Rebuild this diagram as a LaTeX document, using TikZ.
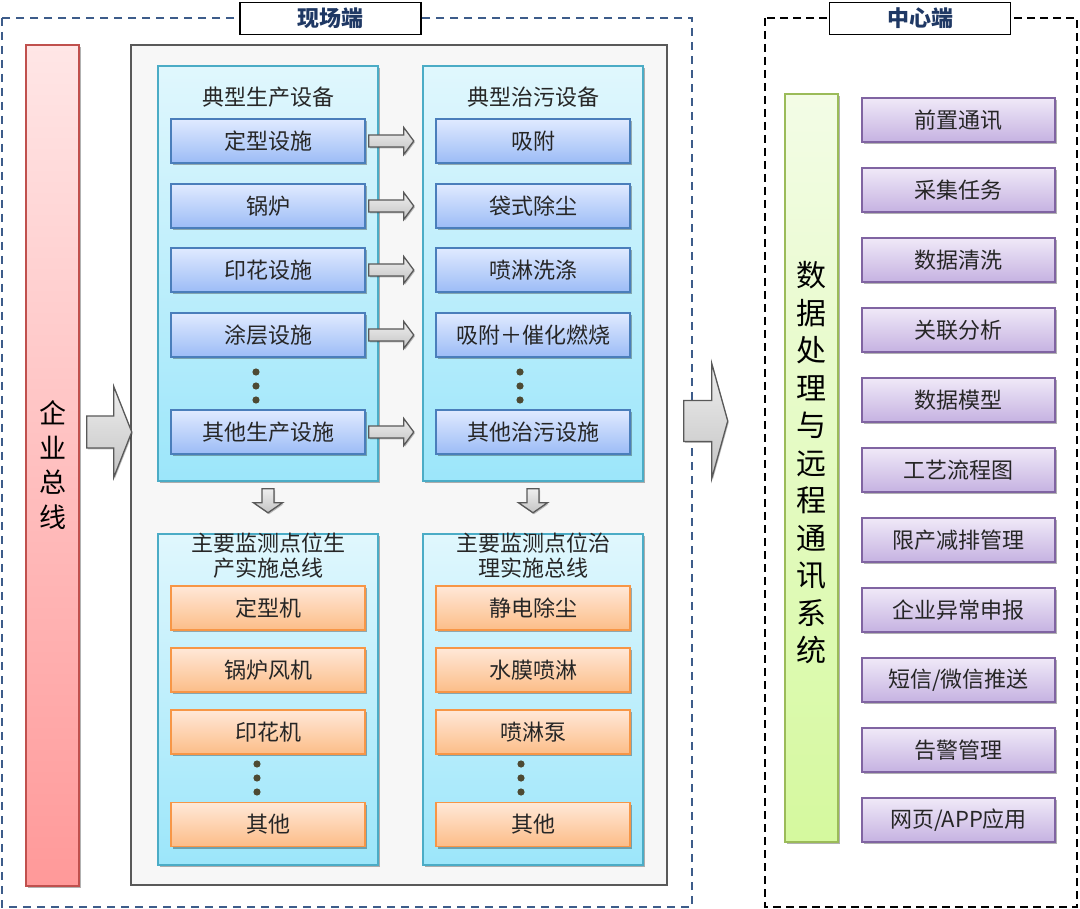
\documentclass[tikz,border=0pt]{standalone}
\usepackage{fontspec}
\setmainfont{Noto Sans CJK SC}
\usetikzlibrary{shadows,calc}
\definecolor{dashblue}{HTML}{3D5C8A}
\definecolor{titlec}{HTML}{1F3864}
\definecolor{txt}{HTML}{262626}
\definecolor{panelgray}{HTML}{F7F7F7}
\definecolor{panelborder}{HTML}{595959}
\definecolor{cyanb}{HTML}{4BACC6}
\definecolor{cyantop}{HTML}{E0F7FD}
\definecolor{cyanbot}{HTML}{9CE6FA}
\definecolor{blueb}{HTML}{4A7EBB}
\definecolor{bluetop}{HTML}{E0EAFF}
\definecolor{bluebot}{HTML}{9CBCF6}
\definecolor{orangeb}{HTML}{F79646}
\definecolor{orangetop}{HTML}{FFE8D8}
\definecolor{orangebot}{HTML}{FCBD88}
\definecolor{purpleb}{HTML}{8064A2}
\definecolor{purpletop}{HTML}{F0E9F8}
\definecolor{purplebot}{HTML}{C5B2E1}
\definecolor{redb}{HTML}{C0504D}
\definecolor{redtop}{HTML}{FFE6E6}
\definecolor{redbot}{HTML}{FF9999}
\definecolor{greenb}{HTML}{9BBB59}
\definecolor{greentop}{HTML}{F3FCE6}
\definecolor{greenbot}{HTML}{D5F99E}
\definecolor{arrowb}{HTML}{595959}
\definecolor{arrowtop}{HTML}{EEEEEE}
\definecolor{arrowbot}{HTML}{C4C4C4}
\definecolor{dotc}{HTML}{4D4A33}
\tikzset{
  shad/.style={drop shadow={shadow xshift=1.5pt,shadow yshift=-2pt,opacity=0.3,fill=black}},
  boxtxt/.style={font=\fontsize{22}{26}\selectfont, text=txt},
  bluebox/.style={boxtxt, rectangle, draw=blueb, line width=1.5pt, top color=bluetop, bottom color=bluebot, minimum width=194pt, minimum height=44pt, inner sep=0pt, shad},
  orangebox/.style={boxtxt, rectangle, draw=orangeb, line width=1.5pt, top color=orangetop, bottom color=orangebot, minimum width=194pt, minimum height=44pt, inner sep=0pt, shad},
  purplebox/.style={boxtxt, rectangle, draw=purpleb, line width=1.5pt, top color=purpletop, bottom color=purplebot, minimum width=193pt, minimum height=44pt, inner sep=0pt, shad},
  cyanpanel/.style={rectangle, draw=cyanb, line width=1.5pt, top color=cyantop, bottom color=cyanbot, minimum width=220pt, shad},
  barrow/.style={draw=arrowb, line width=1.3pt, top color=arrowtop, bottom color=arrowbot, line join=miter, drop shadow={shadow xshift=1pt,shadow yshift=-1.5pt,opacity=0.25,fill=black}},
  titlebox/.style={rectangle, draw=black, line width=1.8pt, fill=white, minimum width=181pt, minimum height=32pt, inner sep=0pt, font=\fontsize{22}{24}\selectfont\bfseries, text=titlec},
  ptitle/.style={font=\fontsize{22}{25}\selectfont, text=txt, align=center}
}
\begin{document}
\begin{tikzpicture}[x=1pt,y=-1pt]
\useasboundingbox (0,0) rectangle (1080,909);
% outer dashed regions
\draw[dashblue, line width=1.5pt, dash pattern=on 8pt off 6pt] (2,18) rectangle (692,907);
\draw[black, line width=1.5pt, dash pattern=on 8pt off 5pt] (765,18) rectangle (1077,907);
\node[titlebox] (t1) at (330.5,18.5) {现场端};
\node[titlebox] (t2) at (920,18.5) {中心端};

% bus
\node[rectangle, draw=redb, line width=1.5pt, top color=redtop, bottom color=redbot, minimum width=53pt, minimum height=841pt, shad] (bus) at (52.5,465.5) {};
\node[font=\fontsize{27}{34.7}\selectfont, align=center, text=black] (bustxt) at (52.5,465) {企\\业\\总\\线};

% gray panel
\node[rectangle, draw=panelborder, line width=1.5pt, fill=panelgray, minimum width=536pt, minimum height=840pt] (gp) at (399,465) {};

% cyan panels
\node[cyanpanel, minimum height=415pt] (p1) at (268,273.5) {};
\node[cyanpanel, minimum height=415pt] (p2) at (533,273.5) {};
\node[cyanpanel, minimum height=331pt] (p3) at (268,699.5) {};
\node[cyanpanel, minimum height=331pt] (p4) at (533,699.5) {};

\node[ptitle] (p1t) at (268,97) {典型生产设备};
\node[ptitle] (p2t) at (533,97) {典型治污设备};
\node[ptitle] (p3t) at (268,555.5) {主要监测点位生\\产实施总线};
\node[ptitle] (p4t) at (533,555.5) {主要监测点位治\\理实施总线};

% production devices
\node[bluebox] (a1) at (268,141) {定型设施};
\node[bluebox] (a2) at (268,206) {锅炉};
\node[bluebox] (a3) at (268,270) {印花设施};
\node[bluebox] (a4) at (268,335) {涂层设施};
\node[bluebox] (a5) at (268,432) {其他生产设施};
\node[bluebox] (b1) at (533,141) {吸附};
\node[bluebox] (b2) at (533,206) {袋式除尘};
\node[bluebox] (b3) at (533,270) {喷淋洗涤};
\node[bluebox] (b4) at (533,335) {吸附＋催化燃烧};
\node[bluebox] (b5) at (533,432) {其他治污设施};

% monitoring
\node[orangebox] (c1) at (268,608) {定型机};
\node[orangebox] (c2) at (268,670) {锅炉风机};
\node[orangebox] (c3) at (268,732) {印花机};
\node[orangebox] (c4) at (268,824.5) {其他};
\node[orangebox] (d1) at (533,608) {静电除尘};
\node[orangebox] (d2) at (533,670) {水膜喷淋};
\node[orangebox] (d3) at (533,732) {喷淋泵};
\node[orangebox] (d4) at (533,824.5) {其他};

% dots
\foreach \yy in {372,386,400} {
  \fill[dotc] (256,\yy) circle (3.6pt);
  \fill[dotc] (520,\yy) circle (3.6pt);
}
\foreach \yy in {764,778,792} {
  \fill[dotc] (257,\yy) circle (3.6pt);
  \fill[dotc] (521,\yy) circle (3.6pt);
}

% small right arrows
\foreach \i in {1,...,5} {
  \draw[barrow] ($(a\i.east)+(3,0)$) ++(0,-6) -- ++(35,0) -- ++(0,-7.5) -- ++(10,13.5) -- ++(-10,13.5) -- ++(0,-7.5) -- ++(-35,0) -- cycle;
}
% down arrows
\draw[barrow] ($(p1.south)+(0,7)$) ++(-6,0) -- ++(0,14) -- ++(-8.5,0) -- ++(14.5,10) -- ++(14.5,-10) -- ++(-8.5,0) -- ++(0,-14) -- cycle;
\draw[barrow] ($(p2.south)+(0,7)$) ++(-6,0) -- ++(0,14) -- ++(-8.5,0) -- ++(14.5,10) -- ++(14.5,-10) -- ++(-8.5,0) -- ++(0,-14) -- cycle;

% big arrows
\draw[barrow] ($(bus.east)+(7,-33.5)$) ++(0,-16) -- ++(27,0) -- ++(0,-29.5) -- ++(18,45.5) -- ++(-18,45.5) -- ++(0,-29.5) -- ++(-27,0) -- cycle;
\draw[barrow] ($(gp.east)+(16,-44)$) ++(0,-20.5) -- ++(28,0) -- ++(0,-37) -- ++(16,57.5) -- ++(-16,57.5) -- ++(0,-37) -- ++(-28,0) -- cycle;

% center side
\node[rectangle, draw=greenb, line width=1.5pt, top color=greentop, bottom color=greenbot, minimum width=53pt, minimum height=748pt, shad] (sys) at (811.5,468) {};
\node[font=\fontsize{30}{37.5}\selectfont, align=center, text=black] (systxt) at (811.5,463) {数\\据\\处\\理\\与\\远\\程\\通\\讯\\系\\统};

\node[purplebox] (e1) at (958.5,120) {前置通讯};
\node[purplebox] (e2) at (958.5,190) {采集任务};
\node[purplebox] (e3) at (958.5,260) {数据清洗};
\node[purplebox] (e4) at (958.5,330) {关联分析};
\node[purplebox] (e5) at (958.5,400) {数据模型};
\node[purplebox] (e6) at (958.5,470) {工艺流程图};
\node[purplebox] (e7) at (958.5,540) {限产减排管理};
\node[purplebox] (e8) at (958.5,610) {企业异常申报};
\node[purplebox] (e9) at (958.5,680) {短信/微信推送};
\node[purplebox] (e10) at (958.5,750) {告警管理};
\node[purplebox] (e11) at (958.5,820) {网页/APP应用};
\end{tikzpicture}
\end{document}
